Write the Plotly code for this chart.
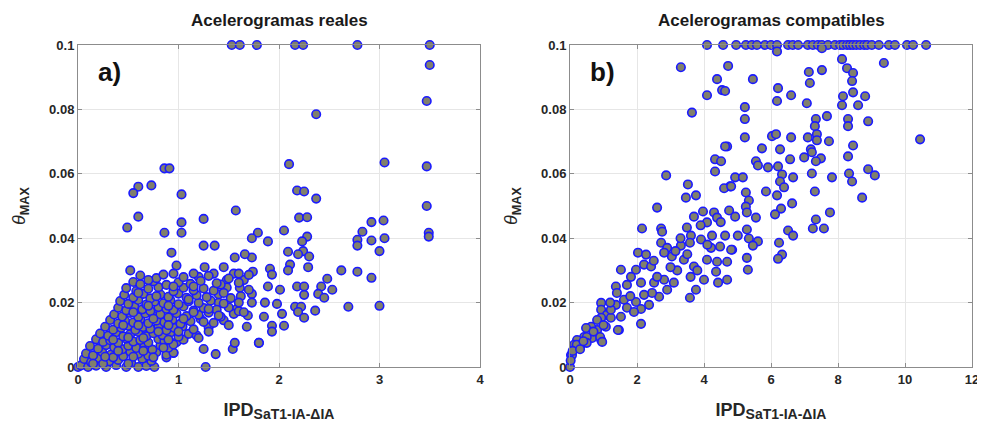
import plotly.graph_objects as go

# ---------------- data: panel a) "Acelerogramas reales" ----------------
real_x = [
    1.53, 1.61, 1.78, 2.16, 2.24, 2.78, 3.50,
    3.50, 3.47, 2.37, 2.10, 3.05, 3.47, 2.18, 2.25, 2.37, 3.47, 2.20, 2.28, 2.92, 3.04, 3.49, 3.49,
    2.83, 2.78, 2.78, 2.92, 3.05, 3.00, 2.05, 2.28, 2.23, 2.09, 2.24, 2.19, 2.30, 2.11, 2.29, 2.09,
    2.62, 2.78, 2.92, 2.48, 2.42, 2.53, 2.39, 2.45, 2.18, 2.25, 2.25, 2.01, 1.89, 2.69, 3.00, 2.16,
    2.22, 2.36, 2.19, 2.25, 2.05, 1.93, 1.93, 2.03, 1.98, 1.86, 1.85, 1.80, 1.79, 1.73, 1.89, 1.73,
    1.74, 1.73, 1.73, 1.69, 1.68, 1.91, 1.93,
    0.86, 0.91, 0.60, 0.73, 0.55, 1.03, 0.60, 1.57, 1.25, 1.03, 0.49, 0.86, 1.03,
    1.25, 1.36, 0.93, 0.98, 1.26, 0.52, 1.56, 1.66, 1.45, 1.55, 1.61, 1.27, 1.25, 1.37, 1.54, 1.56,
    0.88, 0.95, 1.80, 1.62, 1.48, 1.35, 1.40, 1.58, 1.65, 1.20,
    # dense cluster
    0.00, 0.03, 0.10, 0.18, 0.28, 0.38, 0.48, 0.68, 0.76,
    0.06, 0.13, 0.21, 0.31, 0.40, 0.53, 0.64, 0.73,
    0.08, 0.15, 0.24, 0.33, 0.45, 0.52, 0.60, 0.70, 0.78, 0.88, 0.95,
    0.12, 0.20, 0.28, 0.36, 0.44, 0.50, 0.58, 0.66, 0.74, 0.82, 0.90,
    0.18, 0.25, 0.32, 0.40, 0.48, 0.55, 0.62, 0.70, 0.80, 0.86, 0.98, 1.05,
    0.22, 0.30, 0.38, 0.45, 0.52, 0.60, 0.68, 0.75, 0.84, 0.92, 1.00, 1.10, 1.18,
    0.27, 0.35, 0.43, 0.50, 0.57, 0.65, 0.72, 0.80, 0.88, 0.96, 1.04, 1.15, 1.30,
    0.32, 0.40, 0.47, 0.55, 0.62, 0.70, 0.78, 0.86, 0.94, 1.02, 1.12, 1.22, 1.35, 1.45,
    0.36, 0.44, 0.52, 0.60, 0.67, 0.75, 0.82, 0.90, 0.98, 1.08, 1.20, 1.30, 1.42, 1.55,
    0.40, 0.48, 0.56, 0.64, 0.72, 0.80, 0.88, 0.95, 1.05, 1.15, 1.25, 1.38, 1.50, 1.60,
    0.42, 0.50, 0.60, 0.68, 0.76, 0.85, 0.92, 1.00, 1.10, 1.20, 1.32, 1.45,
    0.46, 0.55, 0.65, 0.72, 0.82, 0.90, 1.00, 1.08, 1.18, 1.28, 1.40, 1.52,
    0.48, 0.58, 0.70, 0.80, 0.95, 1.05, 1.15, 1.25, 1.35, 1.48,
    0.55, 0.62, 0.75, 0.88, 1.00, 1.12, 1.22, 1.42, 1.60,
    0.62, 0.78, 0.85, 1.05, 1.30, 1.50, 1.70,
    0.15, 0.25, 0.35, 0.50, 0.60, 0.27, 0.40, 0.55, 0.65, 0.75, 0.85, 0.95, 0.35, 0.50, 0.65, 0.80,
    0.90, 1.00, 0.45, 0.60, 0.75, 0.90, 1.05, 1.25, 1.15, 0.55, 0.70, 0.90, 1.10, 1.30, 1.45, 1.60,
    0.60, 0.78, 0.95, 1.15, 1.38, 0.70, 0.95, 1.15, 1.20, 1.30, 1.40, 1.50, 1.65, 1.70, 1.60,
]
real_y = [
    0.100, 0.100, 0.100, 0.100, 0.100, 0.100, 0.100,
    0.0938, 0.0826, 0.0785, 0.0630, 0.0635, 0.0623, 0.0548, 0.0545, 0.0523, 0.0500, 0.0464, 0.0465, 0.0450, 0.0455, 0.0417, 0.0405,
    0.0420, 0.0395, 0.0377, 0.0393, 0.0400, 0.0360, 0.0424, 0.0405, 0.0390, 0.0358, 0.0360, 0.0350, 0.0343, 0.0318, 0.0310, 0.0300,
    0.0300, 0.0296, 0.0277, 0.0274, 0.0250, 0.0240, 0.0227, 0.0215, 0.0250, 0.0250, 0.0224, 0.0240, 0.0250, 0.0187, 0.0190, 0.0187,
    0.0187, 0.0175, 0.0171, 0.0153, 0.0128, 0.0128, 0.0110, 0.0165, 0.0196, 0.0200, 0.0156, 0.0075, 0.0417, 0.0400, 0.0390, 0.0340,
    0.0296, 0.0227, 0.0200, 0.0160, 0.0125, 0.0305, 0.0287,
    0.0617, 0.0617, 0.0560, 0.0564, 0.0540, 0.0536, 0.0467, 0.0486, 0.0460, 0.0449, 0.0433, 0.0417, 0.0417,
    0.0377, 0.0377, 0.0355, 0.0315, 0.0310, 0.0300, 0.0340, 0.0350, 0.0310, 0.0290, 0.0246, 0.0000, 0.0056, 0.0040, 0.0056, 0.0075,
    0.0030, 0.0044, 0.0075, 0.0220, 0.0270, 0.0290, 0.0200, 0.0180, 0.0270, 0.0280,
    0.0000, 0.0005, 0.0000, 0.0004, 0.0000, 0.0006, 0.0000, 0.0003, 0.0000,
    0.0025, 0.0015, 0.0028, 0.0018, 0.0022, 0.0012, 0.0026, 0.0019,
    0.0042, 0.0036, 0.0047, 0.0039, 0.0033, 0.0048, 0.0041, 0.0035, 0.0046, 0.0038, 0.0044,
    0.0065, 0.0057, 0.0068, 0.0061, 0.0055, 0.0066, 0.0059, 0.0063, 0.0054, 0.0067, 0.0060,
    0.0086, 0.0078, 0.0083, 0.0075, 0.0088, 0.0079, 0.0084, 0.0076, 0.0087, 0.0081, 0.0077, 0.0085,
    0.0104, 0.0097, 0.0108, 0.0095, 0.0102, 0.0109, 0.0096, 0.0105, 0.0099, 0.0107, 0.0094, 0.0103, 0.0098,
    0.0125, 0.0116, 0.0122, 0.0128, 0.0115, 0.0124, 0.0119, 0.0127, 0.0114, 0.0121, 0.0126, 0.0117, 0.0123,
    0.0146, 0.0135, 0.0143, 0.0138, 0.0148, 0.0136, 0.0144, 0.0139, 0.0147, 0.0134, 0.0142, 0.0149, 0.0137, 0.0145,
    0.0163, 0.0157, 0.0168, 0.0155, 0.0166, 0.0159, 0.0164, 0.0154, 0.0167, 0.0158, 0.0162, 0.0169, 0.0156, 0.0165,
    0.0184, 0.0176, 0.0187, 0.0179, 0.0174, 0.0186, 0.0181, 0.0177, 0.0188, 0.0175, 0.0183, 0.0178, 0.0185, 0.0173,
    0.0205, 0.0196, 0.0208, 0.0194, 0.0203, 0.0198, 0.0207, 0.0195, 0.0204, 0.0199, 0.0206, 0.0197,
    0.0224, 0.0216, 0.0227, 0.0213, 0.0225, 0.0218, 0.0228, 0.0215, 0.0223, 0.0217, 0.0226, 0.0214,
    0.0245, 0.0236, 0.0243, 0.0248, 0.0235, 0.0246, 0.0238, 0.0244, 0.0237, 0.0247,
    0.0264, 0.0257, 0.0266, 0.0255, 0.0263, 0.0258, 0.0267, 0.0256, 0.0262,
    0.0284, 0.0276, 0.0287, 0.0279, 0.0283, 0.0275, 0.0286,
    0.0010, 0.0010, 0.0030, 0.0010, 0.0000, 0.0032, 0.0050, 0.0032, 0.0050, 0.0030, 0.0060, 0.0070, 0.0085, 0.0092, 0.0090, 0.0110,
    0.0085, 0.0110, 0.0130, 0.0130, 0.0150, 0.0130, 0.0150, 0.0140, 0.0170, 0.0170, 0.0190, 0.0190, 0.0210, 0.0180, 0.0230, 0.0200,
    0.0230, 0.0220, 0.0250, 0.0250, 0.0260, 0.0270, 0.0290, 0.0290, 0.0090, 0.0110, 0.0160, 0.0130, 0.0170, 0.0240, 0.0290,
]

# ---------------- data: panel b) "Acelerogramas compatibles" ----------------
comp_x = [
    4.09, 4.57, 4.96, 5.25, 5.43, 5.58, 5.82, 6.00, 6.18, 6.51, 6.65, 6.81, 7.10, 7.25, 7.40, 7.52,
    7.70, 7.91, 8.06, 8.15, 8.27, 8.36, 8.45, 8.55, 8.66, 8.78, 8.87, 9.01, 9.22, 9.52, 9.70,
    10.06, 10.24, 10.63, 6.18, 7.52,
    3.31, 4.72, 4.39, 5.46, 4.54, 4.09, 6.21, 6.60, 6.18, 7.13, 7.52, 7.16, 7.07, 8.12, 8.27, 8.45,
    8.42, 8.15, 8.45, 8.81, 8.12, 8.60, 9.37, 3.64, 5.22,
    5.22, 4.63, 7.67, 7.34, 7.31, 8.30, 8.30, 8.90, 5.22, 6.03, 6.15, 6.60, 7.10, 7.37, 7.37, 7.73,
    10.45, 8.45, 4.69, 5.73, 6.27, 7.19, 7.22, 8.30, 6.99, 7.49, 7.34, 6.57, 5.55, 5.61, 5.91, 6.21,
    6.33, 6.66, 7.22, 7.82, 8.33, 8.42, 8.90, 9.10, 6.27, 6.39, 7.31, 8.72, 5.85, 6.18, 4.93, 5.16,
    4.78, 5.25, 5.34, 5.25, 5.28, 5.55, 4.75, 4.93, 6.63, 6.30, 6.12, 7.76, 7.34, 7.25, 7.58, 5.28,
    5.01, 5.34, 5.61, 5.46, 4.84, 4.63, 6.51, 6.66, 6.24, 6.33, 6.21, 5.28, 5.31, 4.69,
    4.63, 4.33, 4.51, 4.33, 2.87, 3.52, 3.46, 3.76, 4.60, 4.81, 2.60, 3.70, 3.97, 4.30, 4.39, 4.09,
    2.15, 2.72, 3.49,
    2.75, 2.72, 2.03, 2.27, 2.90, 3.31, 3.61, 3.58, 3.91, 4.24, 4.21, 4.48, 4.81, 4.09, 4.39, 4.69,
    4.36, 3.04, 3.40, 2.81, 3.70, 4.00, 4.42, 3.76, 3.58, 1.52, 1.97, 2.21, 2.42, 1.82, 1.37, 1.70,
    2.12, 2.51, 2.81, 2.90, 3.10, 2.66, 2.45, 2.21, 1.97, 1.61, 1.37, 1.40, 0.93, 0.93, 1.10, 0.93,
    1.22, 1.52, 1.46, 2.12, 2.12, 0.81, 0.63, 0.48, 0.42, 0.93, 0.66, 0.21, 0.12, 0.03, 0.00, 0.33,
    0.81, 1.07, 1.22, 1.70, 1.91, 2.36,
    0.06, 0.50, 0.90, 0.96, 1.43, 0.50, 0.20, 0.02, 0.08, 0.30, 0.40,
    3.20, 3.50, 3.80, 3.30, 4.10, 3.90, 2.50, 3.00, 3.60, 4.50, 3.15, 2.60, 1.80, 1.20, 1.00, 0.70,
]
comp_y = [
    0.100, 0.100, 0.100, 0.100, 0.100, 0.100, 0.100, 0.100, 0.100, 0.100, 0.100, 0.100, 0.100, 0.100, 0.100, 0.100,
    0.100, 0.100, 0.100, 0.100, 0.100, 0.100, 0.100, 0.100, 0.100, 0.100, 0.100, 0.100, 0.100, 0.100, 0.100,
    0.100, 0.100, 0.100, 0.098, 0.099,
    0.0931, 0.0935, 0.0894, 0.0894, 0.0860, 0.0844, 0.0866, 0.0844, 0.0826, 0.0916, 0.0922, 0.0882, 0.0819, 0.0956, 0.0928, 0.0913,
    0.0888, 0.0841, 0.0853, 0.0841, 0.0813, 0.0813, 0.0944, 0.0790, 0.0807,
    0.0770, 0.0857, 0.0779, 0.0770, 0.0748, 0.0770, 0.0748, 0.0763, 0.0713, 0.0717, 0.0723, 0.0713, 0.0713, 0.0723, 0.0704, 0.0701,
    0.0707, 0.0688, 0.0685, 0.0679, 0.0676, 0.0676, 0.0667, 0.0654, 0.0651, 0.0648, 0.0639, 0.0645, 0.0639, 0.0626, 0.0620, 0.0623,
    0.0598, 0.0589, 0.0601, 0.0589, 0.0601, 0.0576, 0.0614, 0.0595, 0.0576, 0.0558, 0.0545, 0.0526, 0.0545, 0.0533, 0.0589, 0.0589,
    0.0561, 0.0542, 0.0517, 0.0498, 0.0480, 0.0464, 0.0486, 0.0467, 0.0508, 0.0492, 0.0474, 0.0480, 0.0458, 0.0430, 0.0430, 0.0427,
    0.0408, 0.0399, 0.0390, 0.0377, 0.0364, 0.0408, 0.0424, 0.0408, 0.0386, 0.0349, 0.0336, 0.0339, 0.0302, 0.0271,
    0.0685, 0.0645, 0.0639, 0.0607, 0.0595, 0.0567, 0.0526, 0.0533, 0.0555, 0.0561, 0.0495, 0.0467, 0.0483, 0.0480, 0.0464, 0.0449,
    0.0430, 0.0430, 0.0433,
    0.0420, 0.0386, 0.0355, 0.0349, 0.0370, 0.0377, 0.0408, 0.0386, 0.0396, 0.0408, 0.0370, 0.0374, 0.0364, 0.0333, 0.0327, 0.0327,
    0.0296, 0.0343, 0.0333, 0.0355, 0.0312, 0.0271, 0.0262, 0.0240, 0.0215, 0.0302, 0.0302, 0.0318, 0.0312, 0.0280, 0.0250, 0.0255,
    0.0262, 0.0262, 0.0271, 0.0240, 0.0262, 0.0218, 0.0230, 0.0224, 0.0202, 0.0209, 0.0193, 0.0230, 0.0199, 0.0178, 0.0162, 0.0153,
    0.0153, 0.0156, 0.0115, 0.0180, 0.0134, 0.0115, 0.0125, 0.0121, 0.0093, 0.0084, 0.0090, 0.0084, 0.0069, 0.0037, 0.0000, 0.0069,
    0.0146, 0.0125, 0.0178, 0.0184, 0.0171, 0.0193,
    0.0037, 0.0093, 0.0093, 0.0078, 0.0115, 0.0075, 0.0069, 0.0020, 0.0050, 0.0055, 0.0080,
    0.0300, 0.0350, 0.0300, 0.0400, 0.0380, 0.0440, 0.0330, 0.0310, 0.0280, 0.0450, 0.0360, 0.0280, 0.0220, 0.0200, 0.0130, 0.0110,
]

titles = ["Acelerogramas reales", "Acelerogramas compatibles"]
panel_tags = ["a)", "b)"]
y_ticks = [0, 0.02, 0.04, 0.06, 0.08, 0.1]
y_tick_text = ["0", "0.02", "0.04", "0.06", "0.08", "0.1"]
x_ticks_a = [0, 1, 2, 3, 4]
x_ticks_b = [0, 2, 4, 6, 8, 10, 12]

# The page body keeps its default 8 px margin, so the figure is 8 px smaller
# and every reference pixel position is shifted by 8 px.
OFF = 8
W, H = 985 - OFF, 428 - OFF


def px_x(p):
    return (p - OFF) / W


def px_y(p):
    return (H - (p - OFF)) / H


FONT = "Liberation Sans, Arial, sans-serif"
TICKC = "#262626"
marker = dict(size=8.5, color="#807f6c", line=dict(color="#1a1aff", width=1.6))

fig = go.Figure()
fig.add_trace(go.Scatter(x=real_x, y=real_y, mode="markers", marker=marker,
                         cliponaxis=False, showlegend=False, xaxis="x", yaxis="y"))
fig.add_trace(go.Scatter(x=comp_x, y=comp_y, mode="markers", marker=marker,
                         cliponaxis=False, showlegend=False, xaxis="x2", yaxis="y2"))

axis_common = dict(showgrid=True, gridcolor="#e6e6e6", gridwidth=1, zeroline=False,
                   showline=True, linecolor="#8c8c8c", linewidth=1, mirror="ticks",
                   ticks="inside", ticklen=4, tickcolor="#8c8c8c", automargin=False,
                   tickfont=dict(family=FONT, size=13, color=TICKC, weight="bold"))

xlab = "<b>IPD</b><sub><b><span style='font-size:14px'>SaT1-IA-ΔIA</span></b></sub>"
ylab = "<i>θ</i><sub><b>MAX</b></sub>"
DOM_Y = [px_y(367), px_y(45)]

fig.update_layout(
    width=W, height=H,
    margin=dict(l=0, r=0, t=0, b=0, autoexpand=False),
    paper_bgcolor="white", plot_bgcolor="white",
    xaxis=dict(domain=[px_x(78), px_x(480)], range=[0, 4], tickvals=x_ticks_a, anchor="y",
               title=dict(text=xlab, font=dict(family=FONT, size=18, color=TICKC), standoff=17),
               **axis_common),
    yaxis=dict(domain=DOM_Y, range=[0, 0.1], tickvals=y_ticks, ticktext=y_tick_text,
               anchor="x", title=dict(text=ylab, font=dict(family=FONT, size=18, color=TICKC), standoff=18),
               **axis_common),
    xaxis2=dict(domain=[px_x(570), px_x(972)], range=[0, 12], tickvals=x_ticks_b, anchor="y2",
                title=dict(text=xlab, font=dict(family=FONT, size=18, color=TICKC), standoff=17),
                **axis_common),
    yaxis2=dict(domain=DOM_Y, range=[0, 0.1], tickvals=y_ticks, ticktext=y_tick_text,
                anchor="x2", title=dict(text=ylab, font=dict(family=FONT, size=18, color=TICKC), standoff=18),
                **axis_common),
)

for i, (t, tag) in enumerate(zip(titles, panel_tags)):
    xr = "x domain" if i == 0 else "x2 domain"
    yr = "y domain" if i == 0 else "y2 domain"
    fig.add_annotation(text=f"<b>{t}</b>", xref=xr, yref="paper", x=0.5, y=px_y(20),
                       showarrow=False, yanchor="middle",
                       font=dict(family=FONT, size=17, color="#1a1a1a"))
    fig.add_annotation(text=f"<b>{tag}</b>", xref=xr, yref=yr, x=0.045, y=0.915,
                       xanchor="left", yanchor="middle", showarrow=False,
                       font=dict(family=FONT, size=26, color="#111111"))

fig.write_html("out.html")
